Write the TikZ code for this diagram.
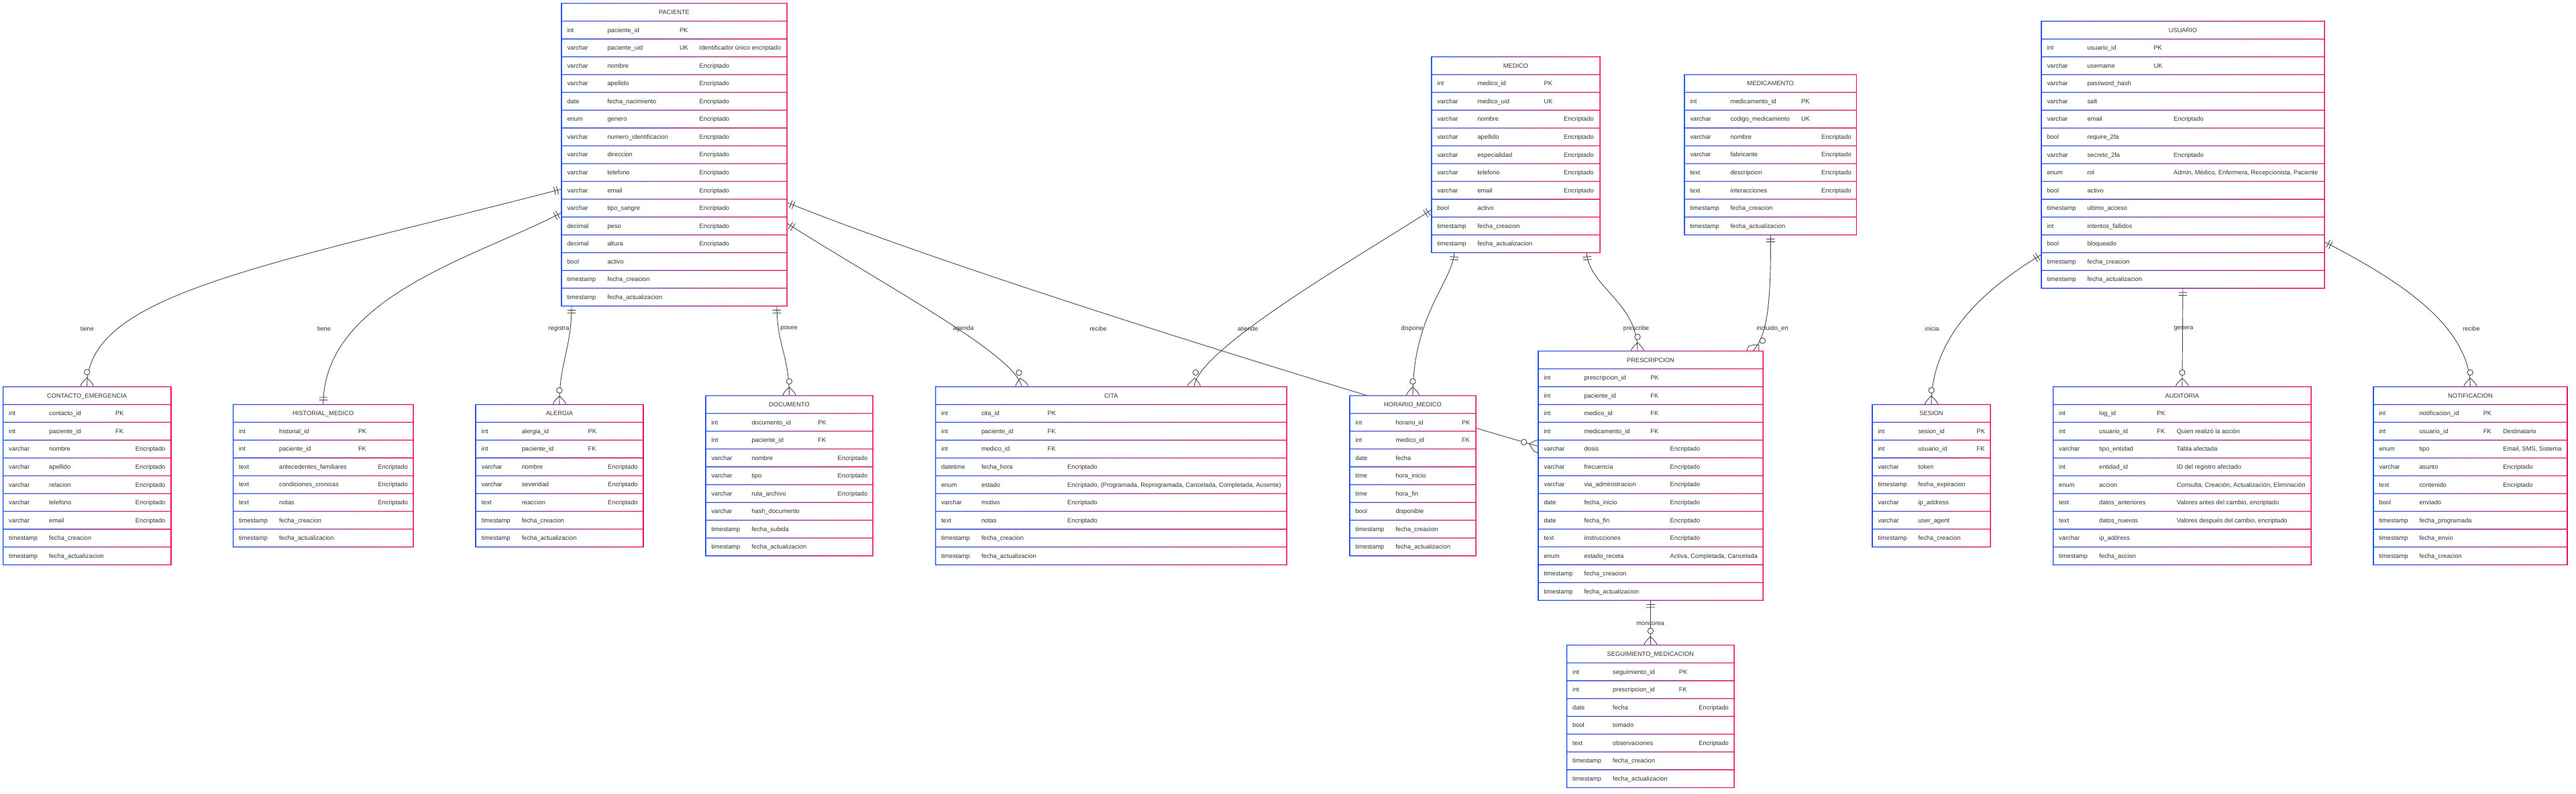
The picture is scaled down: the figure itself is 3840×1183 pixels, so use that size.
\documentclass[tikz,border=0pt]{standalone}
\usepackage{fontspec}
\setmainfont{Liberation Sans}
\usepackage{tikz}
\usetikzlibrary{calc, decorations.markings}
\pgfdeclarelayer{background}
\pgfsetlayers{background,main}
\definecolor{erblue}{RGB}{40,85,235}
\definecolor{erred}{RGB}{235,25,75}
\definecolor{ertextcol}{RGB}{51,51,51}
\definecolor{erline}{RGB}{70,70,70}
\newcommand{\ertextfont}{\fontsize{9.3}{11}\selectfont}
\newcommand{\erh}{26.55}
\tikzset{
  erbox/.style={rectangle, fill=white, inner sep=0pt, outer sep=0pt},
  ertext/.style={font=\ertextfont, text=ertextcol, inner sep=0pt},
  erlabel/.style={font=\ertextfont, text=ertextcol, inner sep=1pt},
  erlink/.style={draw=erline, line width=0.9pt},
  onemany/.style={postaction={decorate, decoration={markings,
    mark=at position 0 with {\draw[erlink] (6.3,-6.3) -- (6.3,6.3) (10.5,-6.3) -- (10.5,6.3);},
    mark=at position 0.999 with {\draw[erlink] (-12.6,0) .. controls (0,12.6) .. (12.6,0) .. controls (0,-12.6) .. (-12.6,0);
                              \draw[erlink, fill=white] (-21,0) circle (4.2);}}}},
  oneone/.style={postaction={decorate, decoration={markings,
    mark=at position 0 with {\draw[erlink] (6.3,-6.3) -- (6.3,6.3) (10.5,-6.3) -- (10.5,6.3);},
    mark=at position 0.999 with {\draw[erlink] (-6.3,-6.3) -- (-6.3,6.3) (-10.5,-6.3) -- (-10.5,6.3);}}}}
}
% #1 node, #2 title, #3 left, #4 top, #5 right, #6 key column, #7 note column, #8 rows
\newcommand{\erentity}[8]{%
  \foreach \errow [count=\erc] in {#8} {\xdef\ernrows{\erc}}
  \pgfmathsetmacro{\erbottom}{#4+(\ernrows+1)*\erh}
  \pgfmathsetmacro{\erheight}{\erbottom-#4}
  \pgfmathsetmacro{\erwidth}{#5-#3}
  \node[erbox, minimum width=\erwidth pt, minimum height=\erheight pt, anchor=north west] (#1) at (#3,#4) {};
  \node[ertext, anchor=base] (#1-title) at ({(#3+#5)/2}, {#4+0.5*\erh+3.3}) {#2};
  \foreach \ertype/\ername/\erkey/\ernote [count=\eri] in {#8} {
    \node[ertext, anchor=base west] (#1-\eri-type) at (#3+8.3, {#4+(\eri+0.5)*\erh+3.3}) {\ertype};
    \node[ertext, anchor=base west] (#1-\eri-name) at (#3+68.3, {#4+(\eri+0.5)*\erh+3.3}) {\ername};
    \node[ertext, anchor=base west] (#1-\eri-key) at (#3+#6, {#4+(\eri+0.5)*\erh+3.3}) {\erkey};
    \node[ertext, anchor=base west] (#1-\eri-note) at (#3+#7, {#4+(\eri+0.5)*\erh+3.3}) {\ernote};
  }
  \begin{scope}
    \clip (#3-0.7,#4-0.65) rectangle (#5+0.7,#4+0.65)
      foreach \erj in {1,...,\ernrows} {(#3-0.7,{#4+\erj*\erh-0.65}) rectangle (#5+0.7,{#4+\erj*\erh+0.65})}
      (#3-0.7,\erbottom-0.65) rectangle (#5+0.7,\erbottom+0.65)
      (#3-0.75,#4-0.65) rectangle (#3+0.75,\erbottom+0.65)
      (#5-0.75,#4-0.65) rectangle (#5+0.75,\erbottom+0.65);
    \shade[left color=erblue, right color=erred] (#3-1,#4-1) rectangle (#5+1,\erbottom+1);
  \end{scope}
}

\begin{document}
\begin{tikzpicture}[x=1pt, y=-1pt]
  \useasboundingbox (0,0) rectangle (3840,1183);

  % top row
  \erentity{paciente}{PACIENTE}{837}{5}{1173}{175.8}{205.5}{
    int/paciente\_id/PK/,
    varchar/paciente\_uid/UK/Identificador único encriptado,
    varchar/nombre//Encriptado,
    varchar/apellido//Encriptado,
    date/fecha\_nacimiento//Encriptado,
    enum/genero//Encriptado,
    varchar/numero\_identificacion//Encriptado,
    varchar/direccion//Encriptado,
    varchar/telefono//Encriptado,
    varchar/email//Encriptado,
    varchar/tipo\_sangre//Encriptado,
    decimal/peso//Encriptado,
    decimal/altura//Encriptado,
    bool/activo//,
    timestamp/fecha\_creacion//,
    timestamp/fecha\_actualizacion//}
  \erentity{medico}{MEDICO}{2134}{84.7}{2385}{167.5}{197}{
    int/medico\_id/PK/,
    varchar/medico\_uid/UK/,
    varchar/nombre//Encriptado,
    varchar/apellido//Encriptado,
    varchar/especialidad//Encriptado,
    varchar/telefono//Encriptado,
    varchar/email//Encriptado,
    bool/activo//,
    timestamp/fecha\_creacion//,
    timestamp/fecha\_actualizacion//}
  \erentity{medicamento}{MEDICAMENTO}{2511}{111.2}{2767.7}{174}{204}{
    int/medicamento\_id/PK/,
    varchar/codigo\_medicamento/UK/,
    varchar/nombre//Encriptado,
    varchar/fabricante//Encriptado,
    text/descripcion//Encriptado,
    text/interacciones//Encriptado,
    timestamp/fecha\_creacion//,
    timestamp/fecha\_actualizacion//}
  \erentity{usuario}{USUARIO}{3043}{31.6}{3465}{167.3}{197}{
    int/usuario\_id/PK/,
    varchar/username/UK/,
    varchar/password\_hash//,
    varchar/salt//,
    varchar/email//Encriptado,
    bool/require\_2fa//,
    varchar/secreto\_2fa//Encriptado,
    enum/rol//{Admin, Médico, Enfermera, Recepcionista, Paciente},
    bool/activo//,
    timestamp/ultimo\_acceso//,
    int/intentos\_fallidos//,
    bool/bloqueado//,
    timestamp/fecha\_creacion//,
    timestamp/fecha\_actualizacion//}

  % second row
  \erentity{contacto}{CONTACTO\_EMERGENCIA}{4.7}{576.7}{254.5}{167.3}{197}{
    int/contacto\_id/PK/,
    int/paciente\_id/FK/,
    varchar/nombre//Encriptado,
    varchar/apellido//Encriptado,
    varchar/relacion//Encriptado,
    varchar/telefono//Encriptado,
    varchar/email//Encriptado,
    timestamp/fecha\_creacion//,
    timestamp/fecha\_actualizacion//}
  \erentity{historial}{HISTORIAL\_MEDICO}{347.6}{603.2}{616}{186.2}{215.7}{
    int/historial\_id/PK/,
    int/paciente\_id/FK/,
    text/antecedentes\_familiares//Encriptado,
    text/condiciones\_cronicas//Encriptado,
    text/notas//Encriptado,
    timestamp/fecha\_creacion//,
    timestamp/fecha\_actualizacion//}
  \erentity{alergia}{ALERGIA}{709.3}{603.2}{958.5}{167.2}{196.7}{
    int/alergia\_id/PK/,
    int/paciente\_id/FK/,
    varchar/nombre//Encriptado,
    varchar/severidad//Encriptado,
    text/reaccion//Encriptado,
    timestamp/fecha\_creacion//,
    timestamp/fecha\_actualizacion//}
  \erentity{documento}{DOCUMENTO}{1052}{589.9}{1301}{167.2}{196.5}{
    int/documento\_id/PK/,
    int/paciente\_id/FK/,
    varchar/nombre//Encriptado,
    varchar/tipo//Encriptado,
    varchar/ruta\_archivo//Encriptado,
    varchar/hash\_documento//,
    timestamp/fecha\_subida//,
    timestamp/fecha\_actualizacion//}
  \erentity{cita}{CITA}{1394.5}{576.7}{1918}{167}{196.5}{
    int/cita\_id/PK/,
    int/paciente\_id/FK/,
    int/medico\_id/FK/,
    datetime/fecha\_hora//Encriptado,
    enum/estado//{Encriptado, (Programada, Reprogramada, Cancelada, Completada, Ausente)},
    varchar/motivo//Encriptado,
    text/notas//Encriptado,
    timestamp/fecha\_creacion//,
    timestamp/fecha\_actualizacion//}
  \erentity{horario}{HORARIO\_MEDICO}{2012}{589.9}{2200}{167}{197}{
    int/horario\_id/PK/,
    int/medico\_id/FK/,
    date/fecha//,
    time/hora\_inicio//,
    time/hora\_fin//,
    bool/disponible//,
    timestamp/fecha\_creacion//,
    timestamp/fecha\_actualizacion//}
  \erentity{prescripcion}{PRESCRIPCION}{2293}{523.5}{2628}{167.2}{196.5}{
    int/prescripcion\_id/PK/,
    int/paciente\_id/FK/,
    int/medico\_id/FK/,
    int/medicamento\_id/FK/,
    varchar/dosis//Encriptado,
    varchar/frecuencia//Encriptado,
    varchar/via\_administracion//Encriptado,
    date/fecha\_inicio//Encriptado,
    date/fecha\_fin//Encriptado,
    text/instrucciones//Encriptado,
    enum/estado\_receta//{Activa, Completada, Cancelada},
    timestamp/fecha\_creacion//,
    timestamp/fecha\_actualizacion//}
  \erentity{sesion}{SESION}{2791}{603.2}{2967}{155.5}{185}{
    int/sesion\_id/PK/,
    int/usuario\_id/FK/,
    varchar/token//,
    timestamp/fecha\_expiracion//,
    varchar/ip\_address//,
    varchar/user\_agent//,
    timestamp/fecha\_creacion//}
  \erentity{auditoria}{AUDITORIA}{3060.7}{576.7}{3445}{154.5}{184}{
    int/log\_id/PK/,
    int/usuario\_id/FK/Quien realizó la acción,
    varchar/tipo\_entidad//Tabla afectada,
    int/entidad\_id//ID del registro afectado,
    enum/accion//{Consulta, Creación, Actualización, Eliminación},
    text/datos\_anteriores//{Valores antes del cambio, encriptado},
    text/datos\_nuevos//{Valores después del cambio, encriptado},
    varchar/ip\_address//,
    timestamp/fecha\_accion//}
  \erentity{notificacion}{NOTIFICACION}{3538}{576.7}{3826.7}{163.5}{193}{
    int/notificacion\_id/PK/,
    int/usuario\_id/FK/Destinatario,
    enum/tipo//{Email, SMS, Sistema},
    varchar/asunto//Encriptado,
    text/contenido//Encriptado,
    bool/enviado//,
    timestamp/fecha\_programada//,
    timestamp/fecha\_envio//,
    timestamp/fecha\_creacion//}

  % third row
  \erentity{seguimiento}{SEGUIMIENTO\_MEDICACION}{2335.7}{962}{2585}{167}{196.5}{
    int/seguimiento\_id/PK/,
    int/prescripcion\_id/FK/,
    date/fecha//Encriptado,
    bool/tomado//,
    text/observaciones//Encriptado,
    timestamp/fecha\_creacion//,
    timestamp/fecha\_actualizacion//}

  % relationships
  \begin{pgfonlayer}{background}
    \draw[erlink, onemany] ($(paciente.north west)+(0,277)$) .. controls (380,400) and (129.4,440) .. (contacto.north);
    \draw[erlink, oneone] ($(paciente.north west)+(0,312)$) .. controls (720,380) and (482,440) .. (historial.north);
    \draw[erlink, onemany] ($(paciente.south west)+(15,0)$) .. controls (852,520) and (833.8,540) .. (alergia.north);
    \draw[erlink, onemany] ($(paciente.south east)+(-15,0)$) .. controls (1158,515) and (1176.5,530) .. (documento.north);
    \draw[erlink, onemany] ($(paciente.north east)+(0,328)$) .. controls (1323,428) and (1515,530) .. ($(cita.north west)+(128.5,0)$);
    \draw[erlink, onemany] ($(paciente.north east)+(0,297)$) .. controls (1473,422) and (2100,610) .. ($(prescripcion.north west)+(0,142)$);
    \draw[erlink, onemany] ($(medico.north west)+(0,228)$) .. controls (2030,380) and (1785,520) .. ($(cita.north east)+(-138,0)$);
    \draw[erlink, onemany] ($(medico.south west)+(34,0)$) .. controls (2165,420) and (2106,470) .. (horario.north);
    \draw[erlink, onemany] ($(medico.south east)+(-20,0)$) .. controls (2370,430) and (2441,450) .. ($(prescripcion.north west)+(148,0)$);
    \draw[erlink, onemany] (medicamento.south) .. controls (2640,450) and (2635,500) .. ($(prescripcion.north east)+(-15,0)$);
    \draw[erlink, onemany] ($(usuario.north west)+(0,348)$) .. controls (2960,430) and (2879,500) .. (sesion.north);
    \draw[erlink, onemany] (usuario.south) -- (auditoria.north);
    \draw[erlink, onemany] ($(usuario.north east)+(0,329)$) .. controls (3560,410) and (3682,480) .. (notificacion.north);
    \draw[erlink, onemany] (prescripcion.south) -- (seguimiento.north);
  \end{pgfonlayer}

  % relationship labels
  \node[erlabel] (lab-contacto) at (130,490) {tiene};
  \node[erlabel] (lab-historial) at (483,490) {tiene};
  \node[erlabel] (lab-alergia) at (833,490) {registra};
  \node[erlabel] (lab-documento) at (1176,490) {posee};
  \node[erlabel] (lab-agenda) at (1436,490) {agenda};
  \node[erlabel] (lab-recibe) at (1637,490) {recibe};
  \node[erlabel] (lab-atiende) at (1860,490) {atiende};
  \node[erlabel] (lab-dispone) at (2105,490) {dispone};
  \node[erlabel] (lab-prescribe) at (2439,490) {prescribe};
  \node[erlabel] (lab-incluido) at (2642,490) {incluido\_en};
  \node[erlabel] (lab-inicia) at (2880,490) {inicia};
  \node[erlabel] (lab-genera) at (3255,490) {genera};
  \node[erlabel] (lab-notif) at (3684,490) {recibe};
  \node[erlabel] (lab-monitorea) at (2460,929) {monitorea};
\end{tikzpicture}
\end{document}
